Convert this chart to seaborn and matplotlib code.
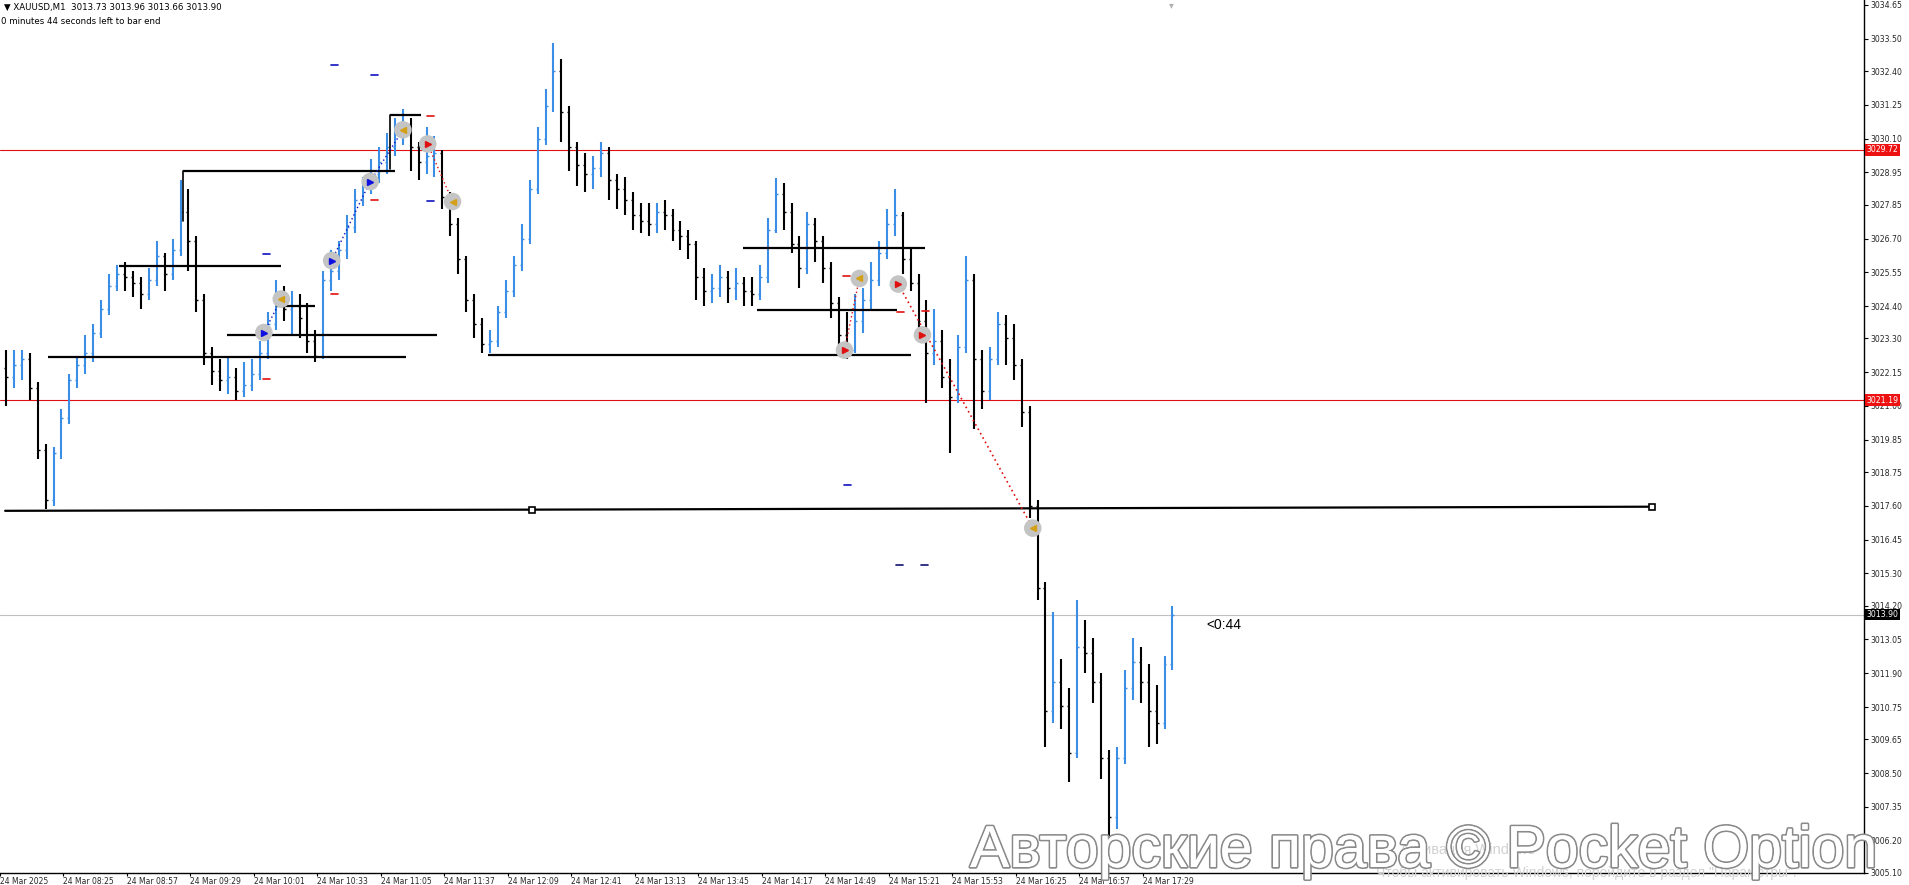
import numpy as np
import matplotlib
matplotlib.use("Agg")
import matplotlib.pyplot as plt
import matplotlib.patheffects as pe
import matplotlib.transforms as mtransforms
import seaborn as sns

first_open = 3022.3
closes = [3022.0, 3022.4, 3022.6, 3021.6, 3019.5, 3017.8, 3019.4, 3020.6, 3021.9, 3022.4,
          3022.8, 3023.5, 3024.3, 3025.1, 3025.5, 3025.4, 3025.2, 3024.8, 3025.3, 3026.1,
          3025.5, 3026.3, 3027.6, 3026.6, 3024.6, 3022.8, 3022.2, 3021.9, 3022.0, 3021.5,
          3021.7, 3022.1, 3022.8, 3023.8, 3024.8, 3024.3, 3024.4, 3024.0, 3023.2, 3022.7,
          3025.3, 3025.6, 3026.3, 3027.1, 3028.0, 3028.5, 3028.9, 3029.3, 3029.8, 3030.4,
          3030.6, 3029.8, 3029.3, 3029.5, 3029.6, 3028.1, 3027.2, 3026.0, 3024.6, 3023.8,
          3023.1, 3023.2, 3024.2, 3024.9, 3025.8, 3026.7, 3028.4, 3030.1, 3031.2, 3032.4,
          3031.0, 3029.8, 3029.2, 3028.9, 3029.1, 3029.6, 3028.7, 3028.4, 3028.0, 3027.5,
          3027.3, 3027.2, 3027.6, 3027.5, 3027.0, 3026.8, 3026.5, 3025.4, 3024.9, 3025.0,
          3025.4, 3025.0, 3025.2, 3024.9, 3024.8, 3025.4, 3027.0, 3028.2, 3027.6, 3026.5,
          3025.7, 3027.2, 3026.6, 3025.7, 3024.5, 3023.4, 3022.9, 3023.9, 3024.6, 3025.3,
          3026.2, 3027.2, 3027.5, 3026.0, 3025.2, 3023.9, 3022.8, 3023.2, 3022.0, 3021.3,
          3023.0, 3025.3, 3022.6, 3021.5, 3022.6, 3023.8, 3023.3, 3022.4, 3020.8, 3017.6,
          3014.8, 3010.6, 3011.6, 3010.8, 3009.2, 3012.8, 3012.6, 3011.6, 3009.0, 3007.0,
          3009.0, 3011.4, 3012.3, 3011.6, 3010.6, 3010.2, 3012.2, 3013.9]
highs = [3022.9, 3022.9, 3022.9, 3022.8, 3021.8, 3019.7, 3019.6, 3020.9, 3022.1, 3022.7,
         3023.4, 3023.8, 3024.6, 3025.5, 3025.8, 3025.9, 3025.6, 3025.4, 3025.7, 3026.6,
         3026.2, 3026.7, 3028.7, 3028.4, 3026.8, 3024.8, 3023.0, 3022.6, 3022.7, 3022.3,
         3022.5, 3022.6, 3023.2, 3024.2, 3025.3, 3025.1, 3024.9, 3024.8, 3024.5, 3023.6,
         3025.6, 3026.3, 3026.6, 3027.5, 3028.4, 3028.8, 3029.4, 3029.8, 3030.3, 3030.8,
         3031.1, 3030.8, 3030.0, 3030.5, 3030.2, 3029.7, 3028.3, 3027.4, 3026.1, 3024.8,
         3024.0, 3023.6, 3024.4, 3025.3, 3026.1, 3027.2, 3028.7, 3030.5, 3031.8, 3033.35,
         3032.8, 3031.2, 3030.0, 3029.6, 3029.5, 3030.0, 3029.8, 3028.9, 3028.8, 3028.3,
         3027.9, 3027.9, 3027.9, 3028.0, 3027.7, 3027.3, 3027.0, 3026.6, 3025.7, 3025.5,
         3025.8, 3025.6, 3025.7, 3025.4, 3025.4, 3025.8, 3027.4, 3028.75, 3028.6, 3027.9,
         3026.8, 3027.6, 3027.4, 3026.8, 3025.9, 3024.7, 3024.2, 3024.8, 3025.0, 3025.9,
         3026.6, 3027.7, 3028.4, 3027.6, 3026.4, 3025.5, 3024.6, 3024.3, 3023.6, 3022.6,
         3023.4, 3026.1, 3025.5, 3022.9, 3023.0, 3024.2, 3024.1, 3023.8, 3022.6, 3021.0,
         3017.8, 3015.0, 3014.0, 3012.4, 3011.4, 3014.4, 3013.7, 3013.1, 3011.9, 3009.3,
         3009.4, 3012.0, 3013.1, 3012.8, 3012.2, 3011.5, 3012.5, 3014.2]
lows = [3021.0, 3021.6, 3021.9, 3021.2, 3019.2, 3017.5, 3017.6, 3019.2, 3020.4, 3021.6,
        3022.1, 3022.5, 3023.3, 3024.1, 3024.9, 3024.9, 3024.7, 3024.3, 3024.6, 3025.1,
        3024.9, 3025.3, 3026.1, 3025.6, 3024.2, 3022.4, 3021.7, 3021.5, 3021.4, 3021.2,
        3021.3, 3021.5, 3021.9, 3022.6, 3023.6, 3023.9, 3023.4, 3023.3, 3022.8, 3022.5,
        3022.6, 3024.9, 3025.3, 3026.0, 3026.9, 3027.8, 3028.2, 3028.6, 3028.9, 3029.5,
        3029.9, 3029.0, 3028.7, 3028.9, 3028.8, 3027.7, 3026.8, 3025.5, 3024.2, 3023.3,
        3022.8, 3022.8, 3023.0, 3024.0, 3024.7, 3025.6, 3026.5, 3028.2, 3029.9, 3031.0,
        3030.0, 3029.0, 3028.5, 3028.3, 3028.4, 3028.8, 3028.0, 3027.7, 3027.5, 3027.0,
        3026.9, 3026.8, 3026.9, 3027.0, 3026.6, 3026.3, 3026.0, 3024.6, 3024.4, 3024.5,
        3024.7, 3024.5, 3024.6, 3024.4, 3024.4, 3024.6, 3025.2, 3026.9, 3027.0, 3026.2,
        3025.0, 3025.5, 3025.9, 3025.2, 3024.0, 3023.0, 3022.6, 3022.8, 3023.5, 3024.3,
        3025.1, 3026.0, 3026.8, 3025.5, 3024.9, 3023.3, 3021.1, 3022.4, 3021.6, 3019.4,
        3021.1, 3022.8, 3020.2, 3020.9, 3021.2, 3022.4, 3022.4, 3021.9, 3020.3, 3017.2,
        3014.4, 3009.4, 3010.2, 3010.0, 3008.2, 3009.0, 3011.9, 3010.9, 3008.3, 3006.25,
        3006.6, 3008.8, 3011.0, 3010.9, 3009.4, 3009.5, 3010.0, 3012.0]

# x axis in minutes after 07:53
time_ticks = [0, 32, 64, 96, 128, 160, 192, 224, 256, 288, 320, 352, 384, 416, 448, 480, 512, 544, 576]
time_labels = ["24 Mar 2025", "24 Mar 08:25", "24 Mar 08:57", "24 Mar 09:29", "24 Mar 10:01",
               "24 Mar 10:33", "24 Mar 11:05", "24 Mar 11:37", "24 Mar 12:09", "24 Mar 12:41",
               "24 Mar 13:13", "24 Mar 13:45", "24 Mar 14:17", "24 Mar 14:49", "24 Mar 15:21",
               "24 Mar 15:53", "24 Mar 16:25", "24 Mar 16:57", "24 Mar 17:29"]
price_ticks = [3034.65, 3033.50, 3032.40, 3031.25, 3030.10, 3028.95, 3027.85, 3026.70, 3025.55,
               3024.40, 3023.30, 3022.15, 3021.00, 3019.85, 3018.75, 3017.60, 3016.45, 3015.30,
               3014.20, 3013.05, 3011.90, 3010.75, 3009.65, 3008.50, 3007.35, 3006.20, 3005.10]

red_levels = [3029.72, 3021.19]
bid = 3013.90

# black level lines: (start minute, end minute, price)
level_lines = [(24.0, 204.6, 3022.65), (59.9, 141.5, 3025.77), (92.3, 199.0, 3029.0),
               (139.1, 159.0, 3024.4), (114.6, 220.5, 3023.42), (196.8, 212.1, 3030.9),
               (246.2, 459.1, 3022.75), (374.7, 466.5, 3026.39), (381.7, 452.4, 3024.28)]
level_corners = [(92.3, 3029.0, 3027.3), (196.8, 3030.9, 3029.07)]
trend_x = [2.6, 268.2, 832.5]
trend_y = [3017.43, 3017.47, 3017.57]

# stop / target dashes
dash_x = [168.8, 188.6, 134.5, 134.5, 168.8, 188.6, 216.8, 216.8, 426.7, 427.0, 453.9, 466.5, 453.6, 465.9]
dash_y = [3032.6, 3032.27, 3026.17, 3021.92, 3024.81, 3028.01, 3027.98, 3030.87, 3025.43, 3018.3,
          3024.21, 3024.23, 3015.59, 3015.59]
dash_c = ["#1010c0", "#1010c0", "#1010c0", "#e01010", "#e01010", "#e01010", "#1010c0", "#e01010",
          "#e01010", "#1010c0", "#e01010", "#e01010", "#101070", "#101070"]

# trade signals
sig_x = [133.0, 141.8, 167.2, 186.6, 203.1, 215.6, 228.1, 425.7, 433.2, 452.8, 465.0, 520.6]
sig_y = [3023.5, 3024.64, 3025.95, 3028.64, 3030.4, 3029.92, 3027.96, 3022.9, 3025.34, 3025.15, 3023.42, 3016.84]
sig_kind = ["buy", "exit", "buy", "buy", "exit", "sell", "exit", "sell", "exit", "sell", "sell", "exit"]

sns.set_theme(style="white")
plt.rcParams['font.family'] = ['DejaVu Sans']

fig = plt.figure(figsize=(19.09, 8.85), dpi=100)
fig.patch.set_facecolor("white")
ax = fig.add_axes([0, 12 / 885, 1864 / 1909, 873 / 885])
ax.set_facecolor("white")
ax.set_xlim(2.6, 939.6)
ax.set_ylim(3005.10, 3034.82)

# level lines behind the bars
for y in red_levels:
    ax.axhline(y, color="#e01010", lw=0.8, zorder=1)
ax.axhline(bid, color="#c0c0c0", lw=0.8, zorder=1)

# OHLC bars
opens = [first_open] + closes[:-1]
bar_x = np.arange(len(closes)) * 4 + 3
up = np.array(closes) >= np.array(opens)
cols = np.where(up, "#3a8ee6", "#000000")
ax.vlines(bar_x, lows, highs, colors=cols, lw=1.5, zorder=3)
ax.hlines(opens, bar_x - 1.0, bar_x, colors=cols, lw=1.0, zorder=3)
ax.hlines(closes, bar_x, bar_x + 1.0, colors=cols, lw=1.0, zorder=3)

for x0, x1, y in level_lines:
    ax.plot([x0, x1], [y, y], color="black", lw=1.6, zorder=4, solid_capstyle="butt")
for x, y0, y1 in level_corners:
    ax.plot([x, x], [y0, y1], color="black", lw=1.2, zorder=4)
ax.plot(trend_x, trend_y, color="black", lw=1.6, zorder=4)
ax.plot(trend_x[1:], trend_y[1:], ls="none", marker="s", ms=4, mfc="white", mec="black", mew=1.2, zorder=5)

for x, y, c in zip(dash_x, dash_y, dash_c):
    ax.plot([x - 1.8, x + 1.8], [y, y], color=c, lw=1.2, zorder=4)

# dotted trade connectors
ax.plot([sig_x[0], sig_x[1]], [sig_y[0], sig_y[1]], color="#1010c0", lw=1.0, ls=(0, (1, 2)), zorder=5)
ax.plot(sig_x[2:5], sig_y[2:5], color="#1010c0", lw=1.0, ls=(0, (1, 2)), zorder=5)
ax.plot([sig_x[5], sig_x[6]], [sig_y[5], sig_y[6]], color="#e01010", lw=1.0, ls=(0, (1, 2)), zorder=5)
ax.plot([sig_x[7], sig_x[8]], [sig_y[7], sig_y[8]], color="#e01010", lw=1.0, ls=(0, (1, 2)), zorder=5)
ax.plot([sig_x[9], sig_x[11]], [sig_y[9], sig_y[11]], color="#e01010", lw=1.2, ls=(0, (1, 2)), zorder=5)

sns.scatterplot(x=sig_x, y=sig_y, s=160, color="#c4c4c4", edgecolor="none", ax=ax, zorder=6, legend=False)
kind_style = {"buy": (">", "#1010e0"), "sell": (">", "#e01010"), "exit": ("<", "#d4a017")}
for x, y, k in zip(sig_x, sig_y, sig_kind):
    m, c = kind_style[k]
    ax.plot(x, y, marker=m, ms=5, color=c, mec=c, zorder=7)

# axes styling like the terminal
for side in ["left", "top"]:
    ax.spines[side].set_visible(False)
for side in ["right", "bottom"]:
    ax.spines[side].set_color("black")
    ax.spines[side].set_linewidth(1.0)
ax.yaxis.tick_right()
ax.set_yticks(price_ticks)
ax.set_yticklabels([f"{p:.2f}" for p in price_ticks])
ax.tick_params(axis="y", direction="out", length=3, width=0.8, color="black",
               labelsize=5.6, pad=2, right=True, left=False)
ax.set_xticks(time_ticks)
ax.set_xticklabels(time_labels)
for lbl in ax.get_xticklabels():
    lbl.set_horizontalalignment("left")
ax.tick_params(axis="x", direction="out", length=2.5, width=0.8, color="black",
               labelsize=5.5, pad=0.3, bottom=True)
ax.grid(False)

# price tags on the right axis
tag_tr = mtransforms.blended_transform_factory(ax.transAxes, ax.transData)
for y, bg in [(red_levels[0], "#ee1111"), (red_levels[1], "#ee1111"), (bid, "black")]:
    ax.text(1.0015, y, f"{y:.2f}", transform=tag_tr, fontsize=5.6, color="white", va="center", ha="left",
            bbox=dict(boxstyle="square,pad=0.18", fc=bg, ec="none"), zorder=10, clip_on=False)

# header texts
ax.text(0.002, 0.997, "\u25bc XAUUSD,M1  3013.73 3013.96 3013.66 3013.90", transform=ax.transAxes,
        fontsize=6.2, va="top", ha="left", color="black")
ax.text(0.0005, 0.980, "0 minutes 44 seconds left to bar end", transform=ax.transAxes,
        fontsize=6.2, va="top", ha="left", color="black")
ax.text(608.0, 3013.55, "<0:44", fontsize=10, family="Liberation Sans", va="center", ha="left", color="black")
fig.text(1171 / 1909, 1.0, "\u25be", fontsize=7, color="#b0b0b0", ha="center", va="top")

# watermarks
fig.text(1400 / 1909, 1 - 850 / 885, "Активация Windows", fontsize=10.5, family="Liberation Sans",
         color="#d2d2d2", ha="left", va="center")
fig.text(1376 / 1909, 1 - 873 / 885, "Чтобы активировать Windows, перейдите в раздел \"Параметры\".",
         fontsize=10, family="Liberation Sans", color="#d2d2d2", ha="left", va="center")
wm = fig.text(970 / 1909, 1 - 867 / 885, "Авторские права © Pocket Option", fontsize=42.5,
              family="Liberation Sans", color="white", ha="left", va="baseline")
wm.set_path_effects([pe.withStroke(linewidth=2.5, foreground="#8a8a8a"), pe.Normal()])

fig.savefig("out.png", dpi=100)
plt.close(fig)
